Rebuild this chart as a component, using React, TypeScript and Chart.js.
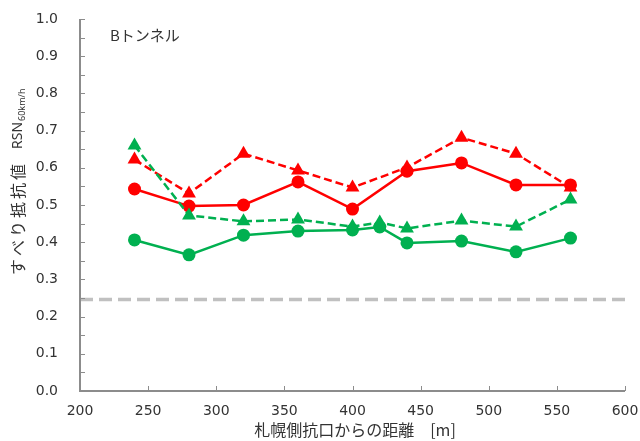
import React, { useEffect, useRef } from 'react';
import { Chart, registerables } from 'chart.js';

Chart.register(...registerables);

// distances [m]
const distRed = [240, 280, 320, 360, 400, 440, 480, 520, 560];
const distGreen = [240, 280, 320, 360, 400, 420, 440, 480, 520, 560];

// series values (RSN60km/h)
const redSolid = [0.543, 0.497, 0.5, 0.562, 0.489, 0.591, 0.613, 0.554, 0.554];
const redDashed = [0.622, 0.531, 0.638, 0.593, 0.547, 0.601, 0.681, 0.638, 0.547];
const greenDashed = [0.66, 0.472, 0.456, 0.461, 0.442, 0.453, 0.437, 0.458, 0.442, 0.515];
const greenSolid = [0.406, 0.366, 0.419, 0.43, 0.433, 0.441, 0.398, 0.403, 0.374, 0.411];

// reference threshold line
const thresholdX = [200, 600];
const thresholdY = [0.246, 0.246];

// axis ticks
const xTickValues = [200, 250, 300, 350, 400, 450, 500, 550, 600];
const yTickValues = [0, 0.1, 0.2, 0.3, 0.4, 0.5, 0.6, 0.7, 0.8, 0.9, 1.0];
const yTickLabels = ['0.0', '0.1', '0.2', '0.3', '0.4', '0.5', '0.6', '0.7', '0.8', '0.9', '1.0'];
const yMinorStep = 0.05;

const panelLabel = 'Bトンネル';
const xTitle = '札幌側抗口からの距離　[m]';
const yTitleMain = 'すべり抵抗値';
const yTitleRSN = 'RSN';
const yTitleSub = '60km/h';

const RED = '#ff0000';
const GREEN = '#00b050';
const AXIS = '#8c8c8c';
const TEXT = '#333333';
const JP = '"Noto Sans CJK JP", "Noto Sans", sans-serif';
const NUM = '"DejaVu Sans", sans-serif';
const LAT = '"Noto Sans", sans-serif';

const pts = (xs: number[], ys: number[]) => xs.map((x, i) => ({ x, y: ys[i] }));

const decorPlugin = {
  id: 'decor',
  afterDatasetsDraw(chart: any) {
    const { ctx, chartArea, scales } = chart;
    const xs = scales.x;
    const ys = scales.y;
    const yMin = yTickValues[0];
    const yMax = yTickValues[yTickValues.length - 1];
    ctx.save();
    // axes lines
    ctx.strokeStyle = AXIS;
    ctx.lineWidth = 2;
    ctx.beginPath();
    ctx.moveTo(chartArea.left, chartArea.top);
    ctx.lineTo(chartArea.left, chartArea.bottom);
    ctx.lineTo(chartArea.right, chartArea.bottom);
    ctx.stroke();
    // inward ticks
    ctx.lineWidth = 1;
    ctx.beginPath();
    for (let v = yMin; v <= yMax + 1e-9; v += yMinorStep) {
      const py = Math.round(ys.getPixelForValue(v)) + 0.5;
      ctx.moveTo(chartArea.left, py);
      ctx.lineTo(chartArea.left + 5, py);
    }
    xTickValues.slice(1).forEach((v) => {
      const px = Math.round(xs.getPixelForValue(v)) + 0.5;
      ctx.moveTo(px, chartArea.bottom);
      ctx.lineTo(px, chartArea.bottom - 5);
    });
    ctx.stroke();

    // tick labels
    ctx.fillStyle = TEXT;
    ctx.font = `14px ${NUM}`;
    ctx.textAlign = 'right';
    ctx.textBaseline = 'middle';
    yTickValues.forEach((v, i) => {
      ctx.fillText(yTickLabels[i], 58, ys.getPixelForValue(v));
    });
    ctx.textAlign = 'center';
    ctx.textBaseline = 'middle';
    xTickValues.forEach((v) => {
      ctx.fillText(String(v), xs.getPixelForValue(v), 411);
    });

    // panel label
    ctx.font = `15px ${JP}`;
    ctx.textBaseline = 'middle';
    ctx.textAlign = 'left';
    ctx.fillText(panelLabel, 110, 35);

    // x title
    ctx.font = `16px ${JP}`;
    ctx.textAlign = 'center';
    ctx.fillText(xTitle, 355, 430);

    // y title (rotated)
    ctx.save();
    ctx.translate(18, 275);
    ctx.rotate(-Math.PI / 2);
    ctx.textAlign = 'left';
    ctx.textBaseline = 'middle';
    ctx.font = `16px ${JP}`;
    try { (ctx as any).letterSpacing = '3px'; } catch (e) {}
    ctx.fillText(yTitleMain, 0, 0);
    try { (ctx as any).letterSpacing = '0px'; } catch (e) {}
    ctx.font = `14px ${LAT}`;
    const rsnX = 126;
    ctx.fillText(yTitleRSN, rsnX, 0);
    const w = ctx.measureText(yTitleRSN).width;
    ctx.font = `9px ${LAT}`;
    ctx.fillText(yTitleSub, rsnX + w + 1, 4);
    ctx.restore();

    ctx.restore();
  },
};

export default function App() {
  const ref = useRef<HTMLCanvasElement | null>(null);
  useEffect(() => {
    document.body.style.margin = '0';
    if (!ref.current) return;
    const chart = new Chart(ref.current, {
      type: 'scatter',
      data: {
        datasets: [
          {
            label: 'threshold',
            data: pts(thresholdX, thresholdY),
            showLine: true,
            borderColor: '#c0c0c0',
            borderWidth: 3.5,
            borderDash: [13, 6],
            pointRadius: 0,
          },
          {
            label: 'green solid',
            data: pts(distGreen, greenSolid),
            showLine: true,
            borderColor: GREEN,
            backgroundColor: GREEN,
            borderWidth: 2.5,
            pointStyle: 'circle',
            pointRadius: 6.5,
            pointBorderWidth: 0,
          },
          {
            label: 'green dashed',
            data: pts(distGreen, greenDashed),
            showLine: true,
            borderColor: GREEN,
            backgroundColor: GREEN,
            borderWidth: 2.5,
            borderDash: [8, 4],
            pointStyle: 'triangle',
            pointRadius: 8,
            pointBorderWidth: 0,
          },
          {
            label: 'red solid',
            data: pts(distRed, redSolid),
            showLine: true,
            borderColor: RED,
            backgroundColor: RED,
            borderWidth: 2.5,
            pointStyle: 'circle',
            pointRadius: 6.5,
            pointBorderWidth: 0,
          },
          {
            label: 'red dashed',
            data: pts(distRed, redDashed),
            showLine: true,
            borderColor: RED,
            backgroundColor: RED,
            borderWidth: 2.5,
            borderDash: [8, 4],
            pointStyle: 'triangle',
            pointRadius: 8,
            pointBorderWidth: 0,
          },
        ],
      },
      options: {
        animation: false,
        responsive: false,
        layout: { padding: { top: 19, right: 15, left: 0, bottom: 0 } },
        plugins: {
          legend: { display: false },
          tooltip: { enabled: false },
          title: { display: false },
        },
        scales: {
          x: {
            type: 'linear',
            min: xTickValues[0],
            max: xTickValues[xTickValues.length - 1],
            afterFit: (s: any) => { s.height = 50; },
            grid: { display: false, drawTicks: false },
            border: { display: false },
            ticks: { display: false, stepSize: 50 },
          },
          y: {
            type: 'linear',
            min: yTickValues[0],
            max: yTickValues[yTickValues.length - 1],
            afterFit: (s: any) => { s.width = 80; },
            grid: { display: false, drawTicks: false },
            border: { display: false },
            ticks: { display: false, stepSize: 0.1 },
          },
        },
      },
      plugins: [decorPlugin],
    });
    return () => chart.destroy();
  }, []);
  return (
    <div style={{ position: 'absolute', left: 0, top: 0, width: 640, height: 441 }}>
      <canvas ref={ref} width={640} height={441} />
    </div>
  );
}
